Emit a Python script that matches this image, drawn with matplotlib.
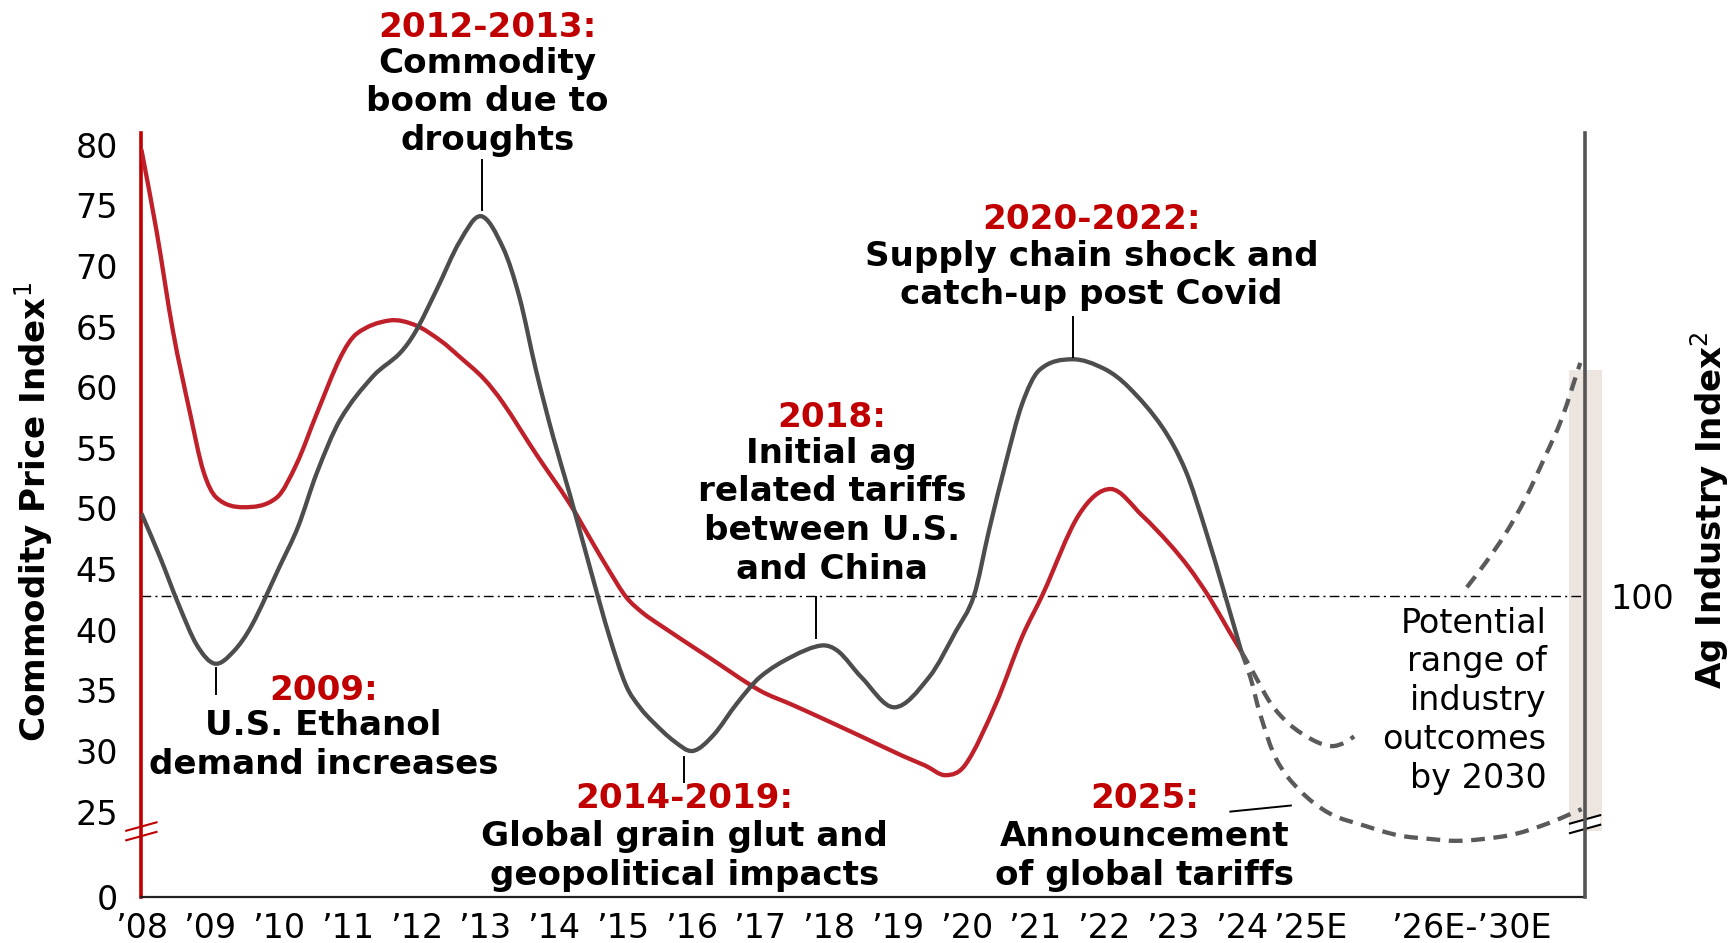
import numpy as np
import matplotlib
matplotlib.use("Agg")
import matplotlib.pyplot as plt
from matplotlib.path import Path
from matplotlib.patches import PathPatch

# ---------------- data ----------------
red_years = [2008.00, 2008.22, 2008.46, 2008.71, 2008.90, 2009.09, 2009.48, 2009.97, 2010.26,
             2010.55, 2010.89, 2011.13, 2011.61, 2011.99, 2012.36, 2012.63, 2012.98, 2013.26,
             2013.74, 2014.23, 2014.57, 2014.79, 2015.05, 2015.29, 2015.54, 2016.26, 2016.99,
             2017.47, 2017.86, 2018.47, 2019.07, 2019.40, 2019.70, 2019.99, 2020.43, 2020.81,
             2021.11, 2021.64, 2022.10, 2022.56, 2022.95, 2023.24, 2023.53, 2023.82, 2024.00]
red_values = [79.6, 72.9, 64.6, 57.8, 53.1, 50.9, 50.1, 50.9, 53.7,
              57.8, 62.4, 64.4, 65.5, 65.1, 63.8, 62.5, 60.7, 58.7,
              54.5, 50.4, 47.1, 45.0, 42.7, 41.4, 40.4, 37.7, 35.0,
              33.8, 32.8, 31.2, 29.6, 28.8, 28.0, 28.9, 33.9, 39.4,
              42.9, 49.5, 51.6, 49.4, 47.1, 45.1, 42.7, 39.9, 38.2]

gray_years = [2008.00, 2008.27, 2008.54, 2008.81, 2009.07, 2009.34, 2009.61, 2010.01, 2010.28,
              2010.55, 2010.89, 2011.37, 2011.76, 2011.99, 2012.30, 2012.63, 2012.94, 2013.26,
              2013.50, 2013.74, 2013.99, 2014.23, 2014.54, 2014.81, 2015.05, 2015.25, 2015.44,
              2015.75, 2016.02, 2016.32, 2016.66, 2017.00, 2017.47, 2017.90, 2018.14, 2018.47,
              2018.95, 2019.46, 2019.85, 2020.11, 2020.33, 2020.57, 2020.81, 2021.06, 2021.54,
              2022.01, 2022.36, 2022.85, 2023.19, 2023.48, 2023.77, 2024.00]
gray_values = [49.6, 46.0, 42.1, 38.7, 37.2, 38.2, 40.4, 45.2, 48.5,
               52.9, 57.3, 60.9, 62.8, 64.6, 68.1, 72.0, 74.1, 71.5,
               67.4, 61.4, 55.9, 51.2, 44.8, 39.4, 35.4, 33.6, 32.4,
               30.8, 30.0, 31.3, 33.9, 36.1, 37.8, 38.7, 38.2, 36.1,
               33.6, 36.1, 39.9, 42.8, 48.2, 53.7, 58.6, 61.4, 62.3,
               61.5, 60.0, 56.7, 53.1, 48.2, 42.7, 38.2]

# projected range of industry outcomes (dashed)
upper_a_years = [2024.00, 2024.17, 2024.43, 2024.70, 2025.04, 2025.31, 2025.51, 2025.64]
upper_a_values = [38.2, 36.5, 33.9, 32.2, 30.9, 30.4, 30.7, 31.2]
upper_b_years = [2027.28, 2027.55, 2027.84, 2028.13, 2028.42, 2028.66, 2028.93]
upper_b_values = [43.5, 45.5, 47.9, 50.8, 54.3, 57.4, 62.0]
lower_years = [2024.00, 2024.13, 2024.27, 2024.50, 2024.84, 2025.28, 2025.80, 2026.29,
               2026.77, 2027.11, 2027.50, 2027.98, 2028.47, 2028.95]
lower_values = [38.2, 36.1, 33.1, 29.4, 26.8, 24.5, 20.8, 18.0,
                16.9, 16.4, 16.9, 18.4, 21.6, 25.2]

baseline_value = 42.8          # Ag Industry Index = 100
baseline_label = "100"
range_years = [2028.76, 2029.24]
range_low, range_high = 19.2, 61.4

x_ticks = [2008, 2009, 2010, 2011, 2012, 2013, 2014, 2015, 2016, 2017, 2018, 2019,
           2020, 2021, 2022, 2023, 2024, 2025, 2027.34]
x_tick_labels = ["\u201908", "\u201909", "\u201910", "\u201911", "\u201912", "\u201913",
                 "\u201914", "\u201915", "\u201916", "\u201917", "\u201918", "\u201919",
                 "\u201920", "\u201921", "\u201922", "\u201923", "\u201924", "\u201925E",
                 "\u201926E-\u201930E"]
y_ticks = [0, 25, 30, 35, 40, 45, 50, 55, 60, 65, 70, 75, 80]

# ---------------- style ----------------
RED_TXT = "#C00000"
RED_LINE = "#C0202A"
GRAY_LINE = "#4D4D4D"
DASH_GRAY = "#5A5A5A"
BEIGE = "#EDE5DF"
FS = 24
AFS = 24.6
LW = 3.1

plt.rcParams["font.family"] = ["DejaVu Sans"]

BREAK = 25.0
K = 0.2805


def fwd(v):
    v = np.asarray(v, dtype=float)
    return np.where(v >= BREAK, v, BREAK - (BREAK - v) * K)


def inv(u):
    u = np.asarray(u, dtype=float)
    return np.where(u >= BREAK, u, BREAK - (BREAK - u) / K)


fig = plt.figure(figsize=(17.32, 9.43), dpi=100)
ax = fig.add_axes([0.08163, 0.04918, 0.83355, 0.81030])
ax.set_yscale("function", functions=(fwd, inv))
ax.set_xlim(2008, 2029)
ax.set_ylim(0, 81)

scaled = ax.transLimits + ax.transAxes   # from scaled (x, fwd(y)) space to display


def smooth_path(xs, ys):
    x = np.asarray(xs, float)
    y = fwd(ys)
    n = len(x)
    m = np.zeros(n)
    for i in range(n):
        if i == 0:
            m[i] = (y[1] - y[0]) / (x[1] - x[0])
        elif i == n - 1:
            m[i] = (y[-1] - y[-2]) / (x[-1] - x[-2])
        else:
            m[i] = (y[i + 1] - y[i - 1]) / (x[i + 1] - x[i - 1])
    verts = [(x[0], y[0])]
    codes = [Path.MOVETO]
    for i in range(n - 1):
        h = x[i + 1] - x[i]
        verts += [(x[i] + h / 3, y[i] + m[i] * h / 3),
                  (x[i + 1] - h / 3, y[i + 1] - m[i + 1] * h / 3),
                  (x[i + 1], y[i + 1])]
        codes += [Path.CURVE4] * 3
    return Path(verts, codes)


def draw_curve(xs, ys, color, lw, ls="-", z=3):
    p = PathPatch(smooth_path(xs, ys), transform=scaled, fill=False, edgecolor=color,
                  lw=lw, linestyle=ls, zorder=z, capstyle="butt", joinstyle="round")
    ax.add_patch(p)


# range band
band = ax.fill_between(range_years, [range_low] * 2, [range_high] * 2, color=BEIGE,
                       lw=0, zorder=0.5)
band.set_clip_on(False)

# baseline
ax.axhline(baseline_value, color="black", lw=1.0, linestyle=(0, (7, 3, 1.5, 3)), zorder=1)

# series
draw_curve(red_years, red_values, RED_LINE, LW)
draw_curve(gray_years, gray_values, GRAY_LINE, LW)
dash = (0, (3.2, 2.0))
draw_curve(upper_a_years, upper_a_values, DASH_GRAY, LW, dash)
draw_curve(upper_b_years, upper_b_values, DASH_GRAY, LW, dash)
draw_curve(lower_years, lower_values, DASH_GRAY, LW, dash)

# axes styling
for s in ["top", "right"]:
    ax.spines[s].set_visible(False)
ax.spines["left"].set_color(RED_TXT)
ax.spines["left"].set_linewidth(2.6)
ax.spines["bottom"].set_color("#222222")
ax.spines["bottom"].set_linewidth(1.6)
ax.set_yticks(y_ticks)
ax.set_yticklabels([str(t) for t in y_ticks])
ax.set_xticks(x_ticks)
ax.set_xticklabels(x_tick_labels)
ax.tick_params(axis="y", length=0, pad=17, labelsize=FS)
ax.tick_params(axis="x", length=0, pad=11, labelsize=FS)
ax.yaxis.set_minor_locator(matplotlib.ticker.NullLocator())

ax.text(-0.075, 0.503, "Commodity Price Index$^{1}$", transform=ax.transAxes, rotation=90,
        ha="center", va="center", fontsize=AFS, fontweight="bold")

# right axis
ax2 = ax.twinx()
ax2.set_yscale("function", functions=(fwd, inv))
ax2.set_ylim(ax.get_ylim())
ax2.set_yticks([baseline_value])
ax2.set_yticklabels([baseline_label])
ax2.yaxis.set_minor_locator(matplotlib.ticker.NullLocator())
ax2.tick_params(axis="y", length=0, pad=18, labelsize=FS)
for s in ["top", "left", "bottom"]:
    ax2.spines[s].set_visible(False)
ax2.spines["right"].set_color("#555555")
ax2.spines["right"].set_linewidth(2.6)
ax.text(1.0865, 0.506, "Ag Industry Index$^{2}$", transform=ax.transAxes, rotation=90,
        ha="center", va="center", fontsize=AFS, fontweight="bold")


# axis break marks
def break_marks(xfrac, value, color, white=False):
    yc = ax.transLimits.transform((2008, float(fwd(value))))[1]
    dx, dy, sep = 0.0105, 0.0055, 0.0125
    if white:
        ax.fill([xfrac - dx, xfrac + dx, xfrac + dx, xfrac - dx],
                [yc + sep / 2 - dy, yc + sep / 2 + dy, yc - sep / 2 + dy, yc - sep / 2 - dy],
                transform=ax.transAxes, color="white", clip_on=False, zorder=0.8, lw=0)
    for off in (sep / 2, -sep / 2):
        ax.plot([xfrac - dx, xfrac + dx], [yc + off - dy, yc + off + dy],
                transform=ax.transAxes, color=color, lw=1.5, clip_on=False, zorder=5)


break_marks(0.0, 19.2, RED_TXT)
break_marks(1.0, 21.3, "black", white=True)

# annotations: (header, body, x, header_y, body_y) in axes fraction
LS = 1.22
annotations = [
    ("2012-2013:", "Commodity\nboom due to\ndroughts", 0.2395, 1.1373, 1.0401),
    ("2009:", "U.S. Ethanol\ndemand increases", 0.1262, 0.2702, 0.1980),
    ("2014-2019:", "Global grain glut and\ngeopolitical impacts", 0.3764, 0.1286, 0.0535),
    ("2018:", "Initial ag\nrelated tariffs\nbetween U.S.\nand China", 0.4782, 0.6272, 0.5043),
    ("2020-2022:", "Supply chain shock and\ncatch-up post Covid", 0.6580, 0.8858, 0.8129),
    ("2025:", "Announcement\nof global tariffs", 0.6947, 0.1286, 0.0535),
]
for head, body, x, yh, yb in annotations:
    ax.text(x, yh, head, transform=ax.transAxes, ha="center", va="center", fontsize=AFS,
            fontweight="bold", color=RED_TXT, clip_on=False)
    ax.text(x, yb, body, transform=ax.transAxes, ha="center", va="center", fontsize=AFS,
            fontweight="bold", color="black", linespacing=LS, clip_on=False)

# leader lines (data coords)
leaders = [
    ([2012.96, 2012.96], [78.7, 74.6]),
    ([2009.08, 2009.08], [36.8, 34.7]),
    ([2015.90, 2015.90], [29.5, 27.4]),
    ([2017.82, 2017.82], [42.7, 39.3]),
    ([2021.55, 2021.55], [65.8, 62.5]),
    ([2023.84, 2024.72], [25.0, 25.5]),
]
for lx, ly in leaders:
    ax.plot(lx, ly, color="black", lw=1.4, clip_on=False, zorder=4)

ax.text(0.9732, 0.2565, "Potential\nrange of\nindustry\noutcomes\nby 2030",
        transform=ax.transAxes, ha="right", va="center", fontsize=FS, linespacing=LS)

fig.savefig("out.png", dpi=100)
